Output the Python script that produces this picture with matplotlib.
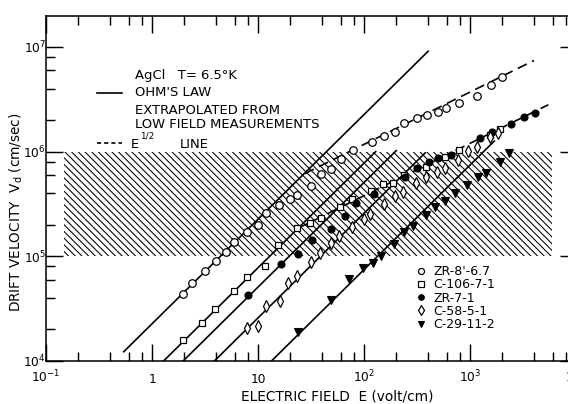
import numpy as np
import matplotlib
matplotlib.use('Agg')
import matplotlib.pyplot as plt
from matplotlib.ticker import LogLocator, FixedLocator, FixedFormatter, NullFormatter
from matplotlib.lines import Line2D
from matplotlib.patches import Rectangle
from matplotlib.collections import LineCollection
from matplotlib.transforms import IdentityTransform

plt.rcParams['font.family'] = ['DejaVu Sans']
plt.rcParams['mathtext.default'] = 'regular'

# ---------------- data (E in volt/cm, v in cm/sec) ----------------
zr8_E = [1.95, 2.40, 3.18, 4.04, 4.94, 5.90, 7.80, 9.9, 11.8, 15.7, 19.8, 23.4, 31.2,
         38.8, 48.6, 60.0, 78, 117, 154, 194, 235, 315, 391, 496, 594, 782, 1157, 1553, 1986]
zr8_v = [4.4e4, 5.5e4, 7.3e4, 9.1e4, 1.11e5, 1.38e5, 1.71e5, 2.01e5, 2.58e5, 3.06e5,
         3.50e5, 3.81e5, 4.72e5, 6.11e5, 6.82e5, 8.46e5, 1.04e6, 1.24e6, 1.40e6, 1.54e6,
         1.89e6, 2.11e6, 2.24e6, 2.41e6, 2.59e6, 2.89e6, 3.42e6, 4.33e6, 5.19e6]

c106_E = [1.97, 2.93, 3.89, 5.93, 7.91, 11.7, 15.5, 23.4, 31.0, 39.4, 58.7, 76.7, 116,
          150, 187, 236, 379, 581, 783, 1545, 1890]
c106_v = [1.60e4, 2.32e4, 3.12e4, 4.69e4, 6.38e4, 8.13e4, 1.28e5, 1.88e5, 2.07e5, 2.31e5,
          2.94e5, 3.50e5, 4.18e5, 4.91e5, 5.01e5, 5.91e5, 7.18e5, 8.94e5, 1.04e6, 1.44e6, 1.65e6]

zr7_E = [8.05, 16.5, 23.9, 32.2, 48.9, 65.3, 83.0, 124, 244, 316, 406, 496, 658, 1224,
         1611, 2420, 3228, 4036]
zr7_v = [4.23e4, 8.53e4, 1.06e5, 1.43e5, 1.84e5, 2.43e5, 3.25e5, 3.91e5, 5.76e5, 6.92e5,
         7.96e5, 8.63e5, 9.29e5, 1.34e6, 1.54e6, 1.82e6, 2.12e6, 2.34e6]

c58_E = [7.83, 9.87, 11.9, 15.9, 19.1, 23.3, 31.4, 38.6, 48.2, 58.2, 77.2, 98.5, 114, 154,
         194, 232, 304, 382, 489, 573, 766, 951, 1157, 1521, 1824]
c58_v = [2.05e4, 2.17e4, 3.35e4, 3.77e4, 5.52e4, 6.44e4, 8.76e4, 1.08e5, 1.35e5, 1.56e5,
         1.91e5, 2.28e5, 2.54e5, 3.18e5, 3.77e5, 4.14e5, 4.98e5, 5.76e5, 6.38e5, 7.02e5,
         8.31e5, 1.02e6, 1.11e6, 1.39e6, 1.50e6]

c29_E = [23.8, 48.2, 71.6, 97.4, 121, 144, 191, 239, 290, 381, 465, 573, 722, 938, 1189,
         1415, 1897, 2333]
c29_v = [1.91e4, 3.83e4, 6.11e4, 7.68e4, 8.57e4, 1.01e5, 1.31e5, 1.71e5, 1.94e5, 2.50e5,
         2.94e5, 3.35e5, 3.98e5, 4.80e5, 5.66e5, 6.18e5, 7.96e5, 9.70e5]

series_labels = ["ZR-8'-6.7", "C-106-7-1", "ZR-7-1", "C-58-5-1", "C-29-11-2"]

# Ohm's law lines (v = mu * E), extrapolated from low-field measurements
ohm_mu = [2.27e4, 7.8e3, 5.1e3, 2.59e3, 7.5e2]
ohm_Emin = [0.54, 1.28, 1.96, 3.86, 13.3]
ohm_Emax = [400, 128, 200, 375, 1680]

# E^(1/2) lines (v = c * E^0.5)
sqrt_c = [1.175e5, 3.8e4]
sqrt_Emin = [27.5, 24.4]
sqrt_Emax = [3980, 5430]

# hatched band
band_E = [0.148, 5900]
band_v = [1e5, 1e6]

xtick_vals = [0.1, 1, 10, 100, 1000, 10000]
xtick_labels = [r'$10^{-1}$', '1', '10', r'$10^{2}$', r'$10^{3}$', r'$10^{4}$']
ytick_vals = [1e4, 1e5, 1e6, 1e7]
ytick_labels = [r'$10^{4}$', r'$10^{5}$', r'$10^{6}$', r'$10^{7}$']

# ---------------- figure ----------------
W, H, DPI = 568, 404, 80
fig = plt.figure(figsize=(W / DPI, H / DPI), dpi=DPI)

def fx(px):
    return px / W

def fy(py):
    return 1 - py / H

ax_left, ax_right, ax_top, ax_bot = 46, 576.5, 16, 361
ax = fig.add_axes([fx(ax_left), fy(ax_bot), fx(ax_right - ax_left), (ax_bot - ax_top) / H])
ax.set_xscale('log')
ax.set_yscale('log')
ax.set_xlim(0.1, 1e4)
ax.set_ylim(1e4, 1.97e7)

# hatched region: diagonal lines (top-left to bottom-right) clipped to the band
band = Rectangle((band_E[0], band_v[0]), band_E[1] - band_E[0], band_v[1] - band_v[0],
                 facecolor='none', edgecolor='none', transform=ax.transData)
ax.add_patch(band)
(x0, y0) = ax.transData.transform((band_E[0], band_v[0]))
(x1, y1) = ax.transData.transform((band_E[1], band_v[1]))
spacing = 6.7
segs = []
for c in np.arange(x0 + y0 - 2, x1 + y1 + spacing, spacing):
    # pixel line: x + y = c
    segs.append([(c - y1, y1), (c - y0, y0)])
hatch = LineCollection(segs, colors='black', linewidths=0.95, transform=IdentityTransform(),
                       zorder=1)
ax.add_collection(hatch, autolim=False)
hatch.set_clip_path(band)

lw = 1.5
for mu, e0, e1 in zip(ohm_mu, ohm_Emin, ohm_Emax):
    e = np.array([e0, e1])
    ax.plot(e, mu * e, color='black', lw=lw, zorder=2)

for c, e0, e1 in zip(sqrt_c, sqrt_Emin, sqrt_Emax):
    e = np.logspace(np.log10(e0), np.log10(e1), 50)
    ax.plot(e, c * np.sqrt(e), color='black', lw=lw, linestyle=(0, (6, 3.5)), zorder=2)

ms = 6.8
h1, = ax.plot(zr8_E, zr8_v, 'o', ms=ms, mfc='white', mec='black', mew=1.1, zorder=3)
h2, = ax.plot(c106_E, c106_v, 's', ms=ms - 0.8, mfc='white', mec='black', mew=1.1, zorder=3)
h3, = ax.plot(zr7_E, zr7_v, 'o', ms=ms - 0.5, mfc='black', mec='black', mew=1.0, zorder=3)
h4, = ax.plot(c58_E, c58_v, 'd', ms=ms + 0.6, mfc='white', mec='black', mew=1.1, zorder=3)
h5, = ax.plot(c29_E, c29_v, 'v', ms=ms - 0.4, mfc='black', mec='black', mew=1.0, zorder=3)

# ticks
for axis in (ax.xaxis, ax.yaxis):
    axis.set_minor_locator(LogLocator(base=10, subs=[2, 4, 6, 8], numticks=20))
    axis.set_minor_formatter(NullFormatter())
ax.xaxis.set_major_locator(FixedLocator(xtick_vals))
ax.xaxis.set_major_formatter(FixedFormatter(xtick_labels))
ax.yaxis.set_major_locator(FixedLocator(ytick_vals))
ax.yaxis.set_major_formatter(FixedFormatter(ytick_labels))
ax.tick_params(which='both', direction='in', top=True, right=True, width=1.3,
               labelsize=11)
ax.tick_params(which='major', length=15)
ax.tick_params(which='minor', length=8.5)
ax.tick_params(axis='x', which='major', pad=19.5)
ax.tick_params(axis='y', which='major', pad=0)
for lab in ax.get_xticklabels():
    lab.set_verticalalignment('baseline')
for sp in ax.spines.values():
    sp.set_linewidth(1.4)

# axis labels
fig.text(fx(337), fy(396), 'ELECTRIC FIELD  E (volt/cm)', ha='center', va='center',
         fontsize=12.3)
fig.text(fx(16), fy(212), r'DRIFT VELOCITY  $V_d$ (cm/sec)', ha='center', va='center',
         rotation=90, fontsize=12.3)

# upper-left annotation
fs = 11.8
fig.text(fx(135), fy(76), 'AgCl   T= 6.5°K', ha='left', va='center', fontsize=fs)
fig.add_artist(Line2D([fx(97), fx(122)], [fy(93), fy(93)], color='black', lw=lw))
fig.text(fx(135), fy(93), "OHM'S LAW", ha='left', va='center', fontsize=fs)
fig.text(fx(135), fy(110), 'EXTRAPOLATED FROM', ha='left', va='center', fontsize=fs)
fig.text(fx(135), fy(125), 'LOW FIELD MEASUREMENTS', ha='left', va='center', fontsize=fs)
fig.add_artist(Line2D([fx(97), fx(122)], [fy(143), fy(143)], color='black', lw=lw,
                      linestyle=(0, (2.5, 1.8))))
fig.text(fx(131), fy(144), 'E', ha='left', va='center', fontsize=fs)
fig.text(fx(140), fy(136), '1/2', ha='left', va='center', fontsize=8)
fig.text(fx(180), fy(144), 'LINE', ha='left', va='center', fontsize=fs)

# legend
leg = ax.legend([h1, h2, h3, h4, h5], series_labels, loc='upper left',
                bbox_to_anchor=(fx(416), fy(265)), bbox_transform=fig.transFigure,
                frameon=False, numpoints=1, markerscale=0.8, handlelength=0.8,
                handletextpad=0.6, labelspacing=0.02, borderpad=0, borderaxespad=0,
                fontsize=11.3)

fig.savefig('out.png', dpi=DPI)
